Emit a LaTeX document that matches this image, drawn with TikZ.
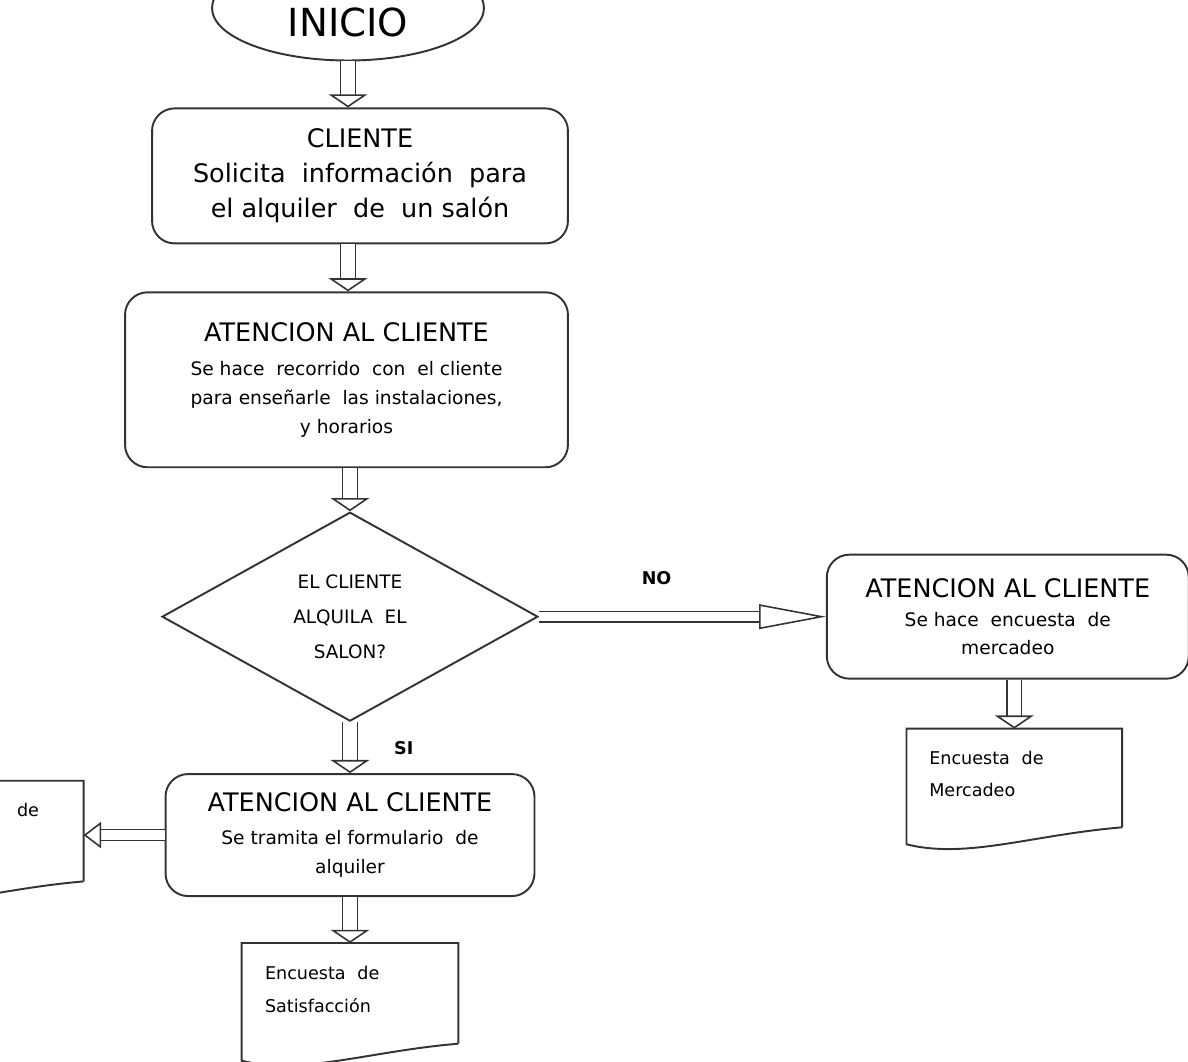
\documentclass[tikz,border=0pt]{standalone}
\usepackage{fontspec}
\setmainfont{DejaVu Sans}
\usetikzlibrary{positioning, arrows.meta, shapes.geometric}
\definecolor{lineaGris}{HTML}{333333}
\newcommand{\titulo}{\fontsize{14.5}{20}\selectfont}
\newcommand{\detalle}{\fontsize{10.6}{16.5}\selectfont}

\begin{document}
\begin{tikzpicture}[x=0.02cm, y=-0.02cm, node distance=1cm,
    caja/.style={draw=lineaGris, line width=1.1pt, rounded corners=0.45cm, align=center,
      inner sep=0pt, font=\detalle},
    decide/.style={diamond, draw=lineaGris, line width=1.1pt, inner sep=0pt, align=center,
      minimum width=7.52cm, minimum height=4.18cm, font=\fontsize{10.5}{20}\selectfont},
    documento/.style={minimum width=4.32cm, minimum height=2cm, text width=3.4cm,
      align=left, inner sep=0pt, text height=8pt, text depth=23.5pt,
      font=\fontsize{10}{18.5}\selectfont},
    hoja/.style={draw=lineaGris, line width=1.1pt},
    flecha/.style={draw=lineaGris, line width=0.9pt, double=white, double distance=7.5pt,
      -{Triangle[open, line width=0.9pt, length=7.5pt, width=22pt]}},
    flechaNO/.style={flecha, double distance=5pt,
      -{Triangle[open, line width=0.9pt, length=38pt, width=14pt]}},
    flechaIzq/.style={flecha, double distance=5.5pt,
      -{Triangle[open, line width=0.9pt, length=10pt, width=15pt]}},
    rotulo/.style={font=\fontsize{10}{12}\selectfont\bfseries}]
  \useasboundingbox (0,0) rectangle (1188,1062);
  \clip (0,0) rectangle (1188,1062);

  % columna principal
  \node[ellipse, draw=lineaGris, line width=1.1pt, minimum width=5.44cm, minimum height=2.1cm,
    inner sep=0pt, font=\fontsize{22}{24}\selectfont, text height=32pt, text depth=0pt]
    (inicio) at (348,8) {INICIO};
  \node[caja, font=\titulo, minimum width=8.32cm, minimum height=2.7cm,
    below=0.92cm of inicio, xshift=0.24cm] (cliente)
    {CLIENTE\\Solicita~ información~ para\\el alquiler~ de~ un salón};
  \node[caja, minimum width=8.86cm, minimum height=3.5cm,
    below=0.94cm of cliente, xshift=-0.27cm] (recorrido)
    {{\titulo ATENCION AL CLIENTE}\\[3pt]Se hace~ recorrido~ con~ el cliente\\
     para enseñarle~ las instalaciones,\\y horarios};
  \node[decide, below=0.86cm of recorrido, xshift=0.07cm] (alquila)
    {EL CLIENTE\\ALQUILA~ EL\\SALON?};
  \node[caja, minimum width=7.38cm, minimum height=2.44cm,
    below=1.02cm of alquila] (tramite)
    {{\titulo ATENCION AL CLIENTE}\\[2pt]Se tramita el formulario~ de\\alquiler};
  \node[documento, below=0.92cm of tramite] (satisfaccion)
    {Encuesta~ de\\Satisfacción};

  % rama NO
  \node[caja, minimum width=7.24cm, minimum height=2.48cm,
    right=5.74cm of alquila] (mercadeo)
    {{\titulo ATENCION AL CLIENTE}\\[0pt]Se hace~ encuesta~ de\\mercadeo};
  \node[documento, minimum width=4.3cm, minimum height=1.96cm,
    below=0.98cm of mercadeo, xshift=0.13cm] (encuesta)
    {Encuesta~ de\\Mercadeo};

  % hoja cortada a la izquierda
  \node[documento, left=1.62cm of tramite, yshift=0.08cm] (formulario) {};
  \node[font=\fontsize{10}{12}\selectfont] (de) at (28,810) {de};

  % hojas con borde ondulado
  \foreach \d in {satisfaccion, encuesta, formulario}
    \draw[hoja] (\d.south east) -- (\d.north east) -- (\d.north west)
      -- ([yshift=-0.34cm]\d.south west)
      .. controls +(1.2cm,-0.3cm) and +(-1.8cm,-0.15cm) .. (\d.south east);

  % flechas
  \draw[flecha] (inicio.south) -- (inicio.south |- cliente.north);
  \draw[flecha] (cliente.south -| inicio.south) -- (recorrido.north -| inicio.south);
  \draw[flecha] (recorrido.south -| alquila.north) -- (alquila.north);
  \draw[flechaNO] (alquila.east) -- (mercadeo.west)
    node[rotulo, pos=0.41, above=0.5cm] (no) {NO};
  \draw[flecha] (alquila.south) -- (alquila.south |- tramite.north)
    node[rotulo, midway, right=0.75cm] (si) {SI};
  \draw[flecha] (tramite.south -| alquila.south) -- (satisfaccion.north -| alquila.south);
  \draw[flecha] (mercadeo.south -| encuesta.north) -- (encuesta.north);
  \draw[flechaIzq] (tramite.west) -- (tramite.west -| formulario.east);
\end{tikzpicture}
\end{document}
